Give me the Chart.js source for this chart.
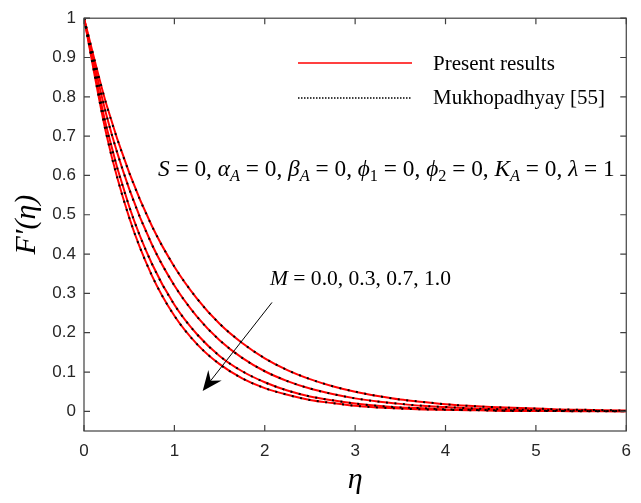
<!DOCTYPE html>
<html>
<head>
<meta charset="utf-8">
<script src="https://cdn.jsdelivr.net/npm/chart.js@4/dist/chart.umd.min.js"></script>
<style>
  html, body { margin: 0; padding: 0; background: #fff; }
  #wrap { width: 641px; height: 503px; }
</style>
</head>
<body>
<div id="wrap"><canvas id="chart" width="641" height="503"></canvas></div>
<script>
// eta grid and F'(eta) for M = 0.0, 0.3, 0.7, 1.0
const eta = [0, 0.25, 0.5, 0.75, 1, 1.25, 1.5, 1.75, 2, 2.25, 2.5, 2.75, 3,
             3.25, 3.5, 3.75, 4, 4.25, 4.5, 4.75, 5, 5.25, 5.5, 5.75, 6];
const fM00 = [1, 0.779, 0.607, 0.472, 0.368, 0.287, 0.223, 0.174, 0.135, 0.105, 0.082, 0.064, 0.050,
              0.039, 0.030, 0.024, 0.018, 0.014, 0.011, 0.009, 0.007, 0.005, 0.004, 0.003, 0.002];
const fM03 = [1, 0.752, 0.566, 0.425, 0.320, 0.241, 0.181, 0.136, 0.102, 0.077, 0.058, 0.044, 0.033,
              0.025, 0.019, 0.014, 0.011, 0.008, 0.006, 0.005, 0.003, 0.003, 0.002, 0.001, 0.001];
const fM07 = [1, 0.722, 0.521, 0.376, 0.271, 0.196, 0.141, 0.102, 0.074, 0.053, 0.038, 0.028, 0.020,
              0.014, 0.010, 0.008, 0.005, 0.004, 0.003, 0.002, 0.002, 0.001, 0.001, 0.001, 0.000];
const fM10 = [1, 0.702, 0.493, 0.346, 0.243, 0.171, 0.120, 0.084, 0.059, 0.042, 0.029, 0.021, 0.014,
              0.010, 0.007, 0.005, 0.004, 0.003, 0.002, 0.001, 0.001, 0.001, 0.000, 0.000, 0.000];
const curves = [fM00, fM03, fM07, fM10];

const xTicks = [0, 1, 2, 3, 4, 5, 6];
const yTicks = [0, 0.1, 0.2, 0.3, 0.4, 0.5, 0.6, 0.7, 0.8, 0.9, 1];
const legendLabels = ['Present results', 'Mukhopadhyay [55]'];

const RED = '#ff0000';
const AXIS = '#404040';
const SERIF = '"Liberation Serif", "DejaVu Serif", serif';
const SANS = '"Liberation Sans", Arial, sans-serif';

const pts = arr => eta.map((x, i) => ({ x: x, y: arr[i] }));

const datasets = [];
curves.forEach(c => {
    datasets.push({
        data: pts(c), borderColor: '#000', borderWidth: 2,
        borderDash: [2, 6.5], pointRadius: 0, cubicInterpolationMode: 'monotone', order: 0
    });
});
curves.forEach(c => {
    datasets.push({
        data: pts(c), borderColor: RED, borderWidth: 2,
        pointRadius: 0, cubicInterpolationMode: 'monotone', order: 1
    });
});

// draws a run of math text: i = italic, r = roman, s = italic subscript, n = roman subscript
function mathRun(ctx, parts, x, y, size, draw) {
    let cx = x;
    for (const [t, k] of parts) {
        const sub = k === 's' || k === 'n';
        const fs = sub ? size * 0.7 : size;
        ctx.font = (k === 'i' || k === 's' ? 'italic ' : '') + fs + 'px ' + SERIF;
        if (draw) ctx.fillText(t, cx, y + (sub ? size * 0.22 : 0));
        cx += ctx.measureText(t).width;
    }
    return cx - x;
}

function fitMath(ctx, parts, x, y, width) {
    const w = mathRun(ctx, parts, x, y, 20, false);
    mathRun(ctx, parts, x, y, 20 * width / w, true);
}

const paramText = [
    ['S', 'i'], [' = 0, ', 'r'], ['α', 'i'], ['A', 's'], [' = 0, ', 'r'],
    ['β', 'i'], ['A', 's'], [' = 0, ', 'r'], ['ϕ', 'i'], ['1', 'n'], [' = 0, ', 'r'],
    ['ϕ', 'i'], ['2', 'n'], [' = 0, ', 'r'], ['K', 'i'], ['A', 's'], [' = 0, ', 'r'],
    ['λ', 'i'], [' = 1', 'r']
];
const mText = [['M', 'i'], [' = 0.0, 0.3, 0.7, 1.0', 'r']];

const decor = {
    id: 'decor',
    afterDraw(chart) {
        const { ctx, chartArea: a, scales: { x, y } } = chart;
        ctx.save();

        // box with inward ticks
        ctx.strokeStyle = AXIS;
        ctx.lineWidth = 1.2;
        ctx.strokeRect(a.left, a.top, a.right - a.left, a.bottom - a.top);
        ctx.beginPath();
        xTicks.forEach(v => {
            const px = x.getPixelForValue(v);
            ctx.moveTo(px, a.bottom); ctx.lineTo(px, a.bottom - 6);
            ctx.moveTo(px, a.top); ctx.lineTo(px, a.top + 6);
        });
        yTicks.forEach(v => {
            const py = y.getPixelForValue(v);
            ctx.moveTo(a.left, py); ctx.lineTo(a.left + 6, py);
            ctx.moveTo(a.right, py); ctx.lineTo(a.right - 6, py);
        });
        ctx.stroke();

        // legend
        ctx.lineWidth = 1.6;
        ctx.strokeStyle = RED;
        ctx.beginPath(); ctx.moveTo(298, 63); ctx.lineTo(412, 63); ctx.stroke();
        ctx.strokeStyle = '#000';
        ctx.setLineDash([1.5, 1.5]);
        ctx.beginPath(); ctx.moveTo(298, 98); ctx.lineTo(412, 98); ctx.stroke();
        ctx.setLineDash([]);
        ctx.fillStyle = '#000';
        ctx.textBaseline = 'alphabetic';
        ctx.textAlign = 'left';
        ctx.font = '20px ' + SERIF;
        const s = 20 * 172 / ctx.measureText(legendLabels[1]).width;
        ctx.font = s + 'px ' + SERIF;
        ctx.fillText(legendLabels[0], 433, 70);
        ctx.fillText(legendLabels[1], 433, 104);

        // annotations
        fitMath(ctx, paramText, 158, 176, 457);
        fitMath(ctx, mText, 270, 285, 181);

        // arrow
        const x0 = x.getPixelForValue(2.08), y0 = y.getPixelForValue(0.277);
        const x1 = x.getPixelForValue(1.313), y1 = y.getPixelForValue(0.052);
        const ang = Math.atan2(y1 - y0, x1 - x0);
        ctx.strokeStyle = '#000';
        ctx.lineWidth = 1;
        ctx.beginPath(); ctx.moveTo(x0, y0);
        ctx.lineTo(x1 - 10 * Math.cos(ang), y1 - 10 * Math.sin(ang)); ctx.stroke();
        const L = 20, W = 8.5;
        const bx = x1 - L * Math.cos(ang), by = y1 - L * Math.sin(ang);
        const nx = -Math.sin(ang), ny = Math.cos(ang);
        const ix = x1 - 13 * Math.cos(ang), iy = y1 - 13 * Math.sin(ang);
        ctx.fillStyle = '#000';
        ctx.beginPath();
        ctx.moveTo(x1, y1);
        ctx.lineTo(bx + W * nx, by + W * ny);
        ctx.lineTo(ix, iy);
        ctx.lineTo(bx - W * nx, by - W * ny);
        ctx.closePath();
        ctx.fill();

        ctx.restore();
    }
};

new Chart(document.getElementById('chart').getContext('2d'), {
    type: 'line',
    data: { datasets: datasets },
    options: {
        responsive: false,
        animation: false,
        layout: { padding: { top: 10, right: 4, left: 0, bottom: 0 } },
        plugins: { legend: { display: false }, tooltip: { enabled: false } },
        scales: {
            x: {
                type: 'linear', min: 0, max: 6,
                grid: { display: false, drawTicks: false },
                border: { display: false },
                afterBuildTicks: sc => { sc.ticks = xTicks.map(v => ({ value: v })); },
                afterFit: sc => { sc.height = 72; },
                ticks: { padding: 10, color: '#262626', font: { family: SANS, size: 17 } },
                title: { display: true, text: 'η', color: '#000', padding: { bottom: 5 },
                         font: { family: SERIF, size: 30, style: 'italic' } }
            },
            y: {
                type: 'linear', min: -0.05, max: 1,
                grid: { display: false, drawTicks: false },
                border: { display: false },
                afterBuildTicks: sc => { sc.ticks = yTicks.map(v => ({ value: v })); },
                afterFit: sc => { sc.width = 84; },
                ticks: { padding: 8, color: '#262626', font: { family: SANS, size: 17 },
                         callback: v => String(Math.round(v * 10) / 10) },
                title: { display: true, text: 'F′(η)', color: '#000', padding: { top: 9 },
                         font: { family: SERIF, size: 30, style: 'italic' } }
            }
        }
    },
    plugins: [decor]
});
</script>
</body>
</html>
